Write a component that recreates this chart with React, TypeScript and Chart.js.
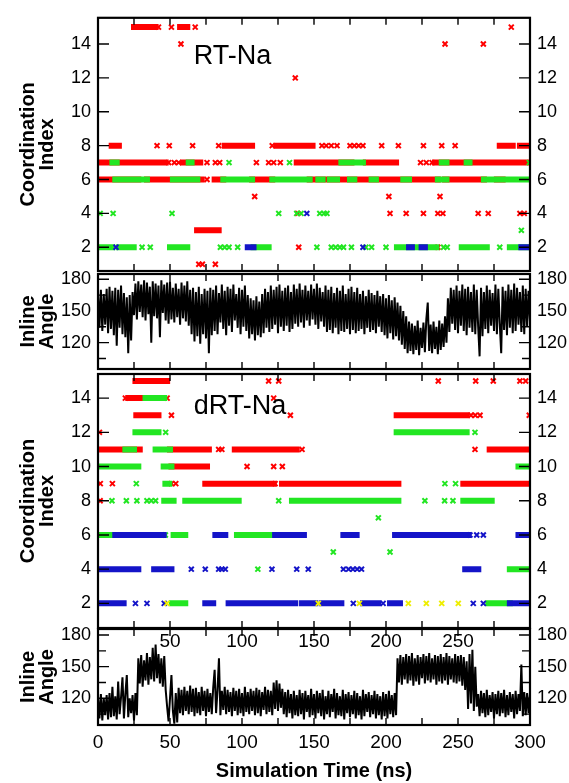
import React, { useEffect, useRef } from 'react';
import { Chart, registerables } from 'chart.js';

Chart.register(...registerables);

const FONT = "'Liberation Sans', Arial, Helvetica, sans-serif";
const W = 569;
const H = 783;

// ---------- tick values ----------
const timeTicks = [0, 50, 100, 150, 200, 250, 300];
const timeFrameTicks = [25, 50, 75, 100, 125, 150, 175, 200, 225, 250, 275];
const innerTimeLabels = [50, 100, 150, 200, 250];
const coordTicks = [2, 4, 6, 8, 10, 12, 14];
const angleTicks = [120, 150, 180];
const angleMinorTicks = [105, 135, 165];

const RED = '#ff0000';
const GREEN = '#22e622';
const BLUE = '#1414c8';
const YELLOW = '#eeee00';

// ---------- RT-Na coordination (runs: [level, start ns, end ns]; points: [ns, level]) ----------
const rtRedRuns = [
  [15, 25, 40], [15, 57, 62],
  [8, 9.5, 14.5], [8, 88, 107], [8, 124, 131], [8, 133, 141], [8, 143, 149], [8, 279, 288], [8, 293, 300],
  [7, 0.5, 47], [7, 59, 71], [7, 138, 176], [7, 186, 207], [7, 234, 298],
  [6, 0.5, 28], [6, 34, 72], [6, 81, 87], [6, 107, 121], [6, 147, 236], [6, 241, 268], [6, 277, 281],
  [3, 68.8, 83.8],
];
const rtRedPts = [
  [42, 15], [51, 15], [67.5, 15], [287, 15],
  [57.6, 14], [241, 14], [267.6, 14],
  [137, 12],
  [41, 8], [49.5, 8], [65.7, 8], [83.8, 8], [121, 8], [155.5, 8], [158.5, 8], [162, 8], [166, 8], [175, 8], [178, 8], [181, 8], [184, 8], [197, 8], [208.6, 8], [226, 8], [238.7, 8], [248, 8],
  [49, 7], [53, 7], [56, 7], [75.7, 7], [81.5, 7], [84.5, 7], [110, 7], [118.5, 7], [122, 7], [126.6, 7], [224, 7], [228, 7], [232, 7],
  [75.7, 6],
  [108.8, 5], [202, 5], [237.5, 5],
  [138.7, 4], [202.8, 4], [214, 4], [226, 4], [236, 4], [239.5, 4], [264, 4], [271, 4], [293, 4], [296, 4],
  [139.4, 2], [236, 2],
  [70, 1], [72.5, 1], [81.5, 1],
];
const rtGreenRuns = [
  [7, 10, 13], [7, 63, 65], [7, 169, 172], [7, 176, 184], [7, 238.7, 242], [7, 256, 258],
  [6, 12, 15], [6, 18, 20], [6, 23, 26], [6, 29, 34], [6, 52, 55], [6, 58, 62], [6, 66, 69], [6, 87, 107], [6, 121, 147],
  [6, 153, 156], [6, 161, 166], [6, 175, 178], [6, 190, 193], [6, 212, 216], [6, 236, 242], [6, 268, 277], [6, 281, 299.5],
  [2, 0.5, 9.7], [2, 14.4, 24.8], [2, 50, 62], [2, 108, 118.5], [2, 207.6, 223.6], [2, 227, 235], [2, 252.6, 270], [2, 286, 299],
];
const rtGreenPts = [
  [91, 7], [133, 7], [299.5, 7],
  [1.5, 4], [10.5, 4], [51.4, 4], [125.5, 4], [138, 4], [141, 4], [154, 4], [157, 4], [159, 4],
  [294, 3],
  [30.6, 2], [36.3, 2], [85, 2], [88, 2], [91, 2], [97, 2], [152, 2], [162, 2], [165, 2], [168, 2], [170.5, 2], [176, 2],
  [186, 2], [190, 2], [200, 2], [240, 2], [242.5, 2], [279, 2],
];
const rtBlueRuns = [[2, 104, 108], [2, 216, 218], [2, 224.7, 227], [2, 294, 299.5]];
const rtBluePts = [[12.5, 2], [145, 4], [184, 2]];

// ---------- dRT-Na coordination ----------
const drtRedRuns = [
  [15, 26, 37], [15, 38.5, 48],
  [14, 21, 33],
  [13, 26.6, 42], [13, 207.4, 256],
  [11, 0.5, 29], [11, 50, 77], [11, 95, 138], [11, 272, 300],
  [10, 51, 75.7],
  [9, 74.5, 122], [9, 127.8, 208.6], [9, 253.7, 300],
];
const drtRedPts = [
  [118.5, 15], [125.5, 15], [236.3, 15], [262.3, 15], [274.5, 15], [293, 15], [297, 15],
  [19, 14], [48, 14], [122, 14],
  [51, 13], [133.6, 13], [259, 13], [262, 13], [265.3, 13], [299.5, 13],
  [1, 12],
  [83.8, 11], [86, 11], [141.7, 11], [261.8, 11],
  [103.5, 10], [122, 10], [128, 10],
  [1.6, 9], [10, 9], [51, 9], [54, 9], [123, 9],
  [1.5, 8],
];
const drtGreenRuns = [
  [14, 33, 46],
  [12, 26, 42], [12, 207.4, 256],
  [11, 19, 25], [11, 40, 50],
  [10, 0.5, 28], [10, 45.6, 51], [10, 292, 299.5],
  [9, 46.8, 49.5],
  [8, 46, 52.5], [8, 60.6, 97.7], [8, 134.7, 208.6], [8, 253.7, 273.4],
  [6, 2.3, 8.6], [6, 52.5, 60.6], [6, 96.5, 123], [6, 130, 133.6],
  [4, 286, 299.5],
  [2, 51.4, 60.6], [2, 271, 286],
];
const drtGreenPts = [
  [47, 12], [261.8, 12],
  [26.6, 9], [240.9, 9], [248.3, 9],
  [9.7, 8], [19.7, 8], [27, 8], [34, 8], [37, 8], [40, 8], [125.5, 8], [227, 8], [240.7, 8], [246.5, 8],
  [194.7, 7],
  [46.8, 6],
  [163.4, 5], [202.8, 5],
  [111, 4],
];
const drtBlueRuns = [
  [6, 12, 45.6], [6, 81.5, 88.4], [6, 123, 130], [6, 134, 143], [6, 170.4, 179.6], [6, 206.3, 257.2], [6, 292, 299.5],
  [4, 0.5, 28], [4, 39, 51], [4, 255, 264.1],
  [2, 0.5, 17.8], [2, 74.5, 80], [2, 90.7, 94], [2, 96.5, 137], [2, 141.7, 150.7], [2, 155.3, 169], [2, 184, 194.7], [2, 202.8, 209.7], [2, 286, 300],
];
const drtBluePts = [
  [258.3, 6], [263, 6], [267.6, 6],
  [64.8, 4], [74.5, 4], [83.8, 4], [86, 4], [88.4, 4], [120.8, 4], [138, 4], [146, 4], [170.4, 4], [174, 4], [177, 4], [180, 4], [183, 4],
  [26, 2], [34, 2], [46, 2], [177.3, 2], [198, 2], [260.6, 2], [267.6, 2],
];
const drtYellowPts = [[47.9, 2], [153, 2], [181.5, 2], [215.5, 2], [228, 2], [238.7, 2], [250.2, 2]];

// ---------- inline angle, one value per ns (0..300) ----------
const rtAngle = [
  168, 134, 170, 131, 166, 137, 171, 129, 173, 133,
  169, 127, 172, 117, 170, 134, 174, 128, 167, 125,
  163, 110, 165, 122, 168, 146, 176, 142, 178, 149,
  175, 144, 179, 141, 177, 147, 173, 120, 178, 145,
  176, 143, 174, 125, 179, 148, 175, 141, 177, 138,
  178, 142, 172, 139, 176, 144, 171, 137, 177, 143,
  174, 140, 178, 136, 170, 128, 172, 121, 168, 126,
  173, 119, 166, 128, 171, 124, 169, 110, 172, 127,
  170, 131, 174, 128, 167, 139, 175, 133, 169, 127,
  173, 136, 171, 130, 175, 141, 166, 134, 172, 128,
  170, 135, 174, 131, 165, 124, 162, 128, 160, 122,
  164, 127, 159, 125, 166, 129, 171, 134, 168, 130,
  174, 133, 170, 137, 173, 129, 175, 135, 169, 131,
  172, 136, 174, 130, 168, 133, 175, 138, 171, 135,
  176, 139, 170, 134, 174, 141, 169, 136, 175, 142,
  171, 137, 176, 133, 172, 140, 168, 135, 174, 130,
  170, 132, 173, 129, 167, 134, 172, 128, 169, 131,
  174, 130, 166, 133, 171, 128, 173, 132, 168, 129,
  172, 131, 166, 133, 169, 128, 164, 134, 170, 130,
  167, 132, 165, 129, 169, 135, 164, 130, 166, 127,
  162, 124, 165, 129, 160, 123, 163, 126, 158, 122,
  155, 118, 150, 114, 145, 110, 140, 112, 138, 109,
  136, 113, 141, 108, 134, 115, 139, 111, 142, 158,
  112, 137, 110, 140, 114, 135, 109, 141, 113, 138,
  116, 145, 120, 162, 130, 172, 138, 170, 132, 174,
  129, 169, 136, 175, 131, 171, 127, 173, 134, 168,
  130, 175, 128, 170, 135, 107, 172, 126, 168, 133,
  174, 129, 170, 136, 167, 131, 175, 128, 171, 138,
  110, 173, 132, 169, 127, 175, 134, 170, 129, 176,
  131, 172, 137, 168, 130, 174, 128, 171, 135, 169,
  140,
];
const drtAngle = [
  121, 101, 124, 99, 120, 104, 123, 100, 125, 102,
  131, 103, 122, 100, 136, 105, 121, 140, 101, 124,
  142, 102, 120, 106, 123, 99, 125, 104, 158, 134,
  161, 131, 156, 137, 163, 133, 159, 138, 168, 136,
  171, 139, 162, 134, 158, 131, 160, 128, 112, 98,
  120, 142, 108, 96, 125, 97, 130, 106, 128, 104,
  131, 108, 127, 105, 132, 107, 129, 103, 130, 106,
  126, 104, 131, 108, 127, 103, 129, 107, 125, 105,
  130, 147, 106, 128, 158, 104, 127, 109, 131, 105,
  128, 107, 126, 103, 130, 108, 127, 104, 129, 106,
  125, 103, 131, 107, 126, 105, 129, 108, 127, 104,
  130, 106, 128, 103, 126, 109, 131, 105, 128, 107,
  127, 104, 135, 110, 137, 108, 134, 111, 129, 105,
  126, 102, 128, 106, 124, 101, 127, 104, 123, 103,
  128, 105, 125, 100, 127, 107, 123, 102, 129, 104,
  124, 101, 127, 106, 125, 103, 128, 100, 122, 105,
  127, 102, 124, 107, 129, 101, 125, 104, 122, 103,
  128, 100, 124, 106, 126, 102, 123, 105, 127, 101,
  125, 104, 122, 100, 128, 103, 124, 107, 126, 102,
  123, 105, 127, 101, 124, 104, 122, 100, 126, 103,
  124, 101, 127, 105, 123, 102, 125, 104, 158, 135,
  161, 133, 159, 138, 162, 134, 160, 137, 163, 132,
  158, 136, 161, 133, 159, 139, 162, 134, 160, 137,
  163, 135, 158, 138, 161, 133, 160, 136, 162, 134,
  159, 137, 163, 133, 160, 138, 158, 135, 162, 134,
  160, 136, 161, 132, 159, 128, 155, 110, 162, 115,
  166, 108, 150, 112, 124, 103, 127, 106, 125, 102,
  128, 104, 123, 107, 126, 101, 124, 105, 127, 103,
  125, 106, 128, 102, 123, 104, 126, 107, 124, 101,
  127, 105, 124, 108, 152, 103, 126, 104, 125, 106,
  124,
];

// ---------- helpers ----------
function runData(runs: number[][]) {
  const out: any[] = [];
  for (const [lv, s, e] of runs) {
    out.push({ x: s, y: lv }, { x: e, y: lv }, { x: e, y: null });
  }
  return out;
}
function ptData(pts: number[][]) {
  return pts.map(([t, lv]) => ({ x: t, y: lv }));
}
function runSet(runs: number[][], color: string) {
  return {
    type: 'line', data: runData(runs), borderColor: color, borderWidth: 6, borderCapStyle: 'square',
    pointRadius: 0, fill: false, spanGaps: false, tension: 0,
  };
}
function ptSet(pts: number[][], color: string) {
  return {
    type: 'scatter', data: ptData(pts), pointStyle: 'crossRot', pointRadius: 3.5,
    borderColor: color, backgroundColor: color, pointBorderWidth: 2, borderWidth: 2, showLine: false,
  };
}
function angleSet(vals: number[]) {
  return {
    type: 'line', data: vals.map((v, i) => ({ x: i, y: v })), borderColor: '#000', borderWidth: 2,
    pointRadius: 0, fill: false, tension: 0,
  };
}

const framePlugin = {
  id: 'frame',
  afterDatasetsDraw(chart: any, _a: any, o: any) {
    const { ctx, chartArea: a, scales } = chart;
    const xs = scales.x;
    const ys = scales.y;
    ctx.save();
    ctx.strokeStyle = '#000';
    ctx.lineWidth = 1.4;
    ctx.beginPath();
    for (const v of timeFrameTicks) {
      const px = xs.getPixelForValue(v);
      ctx.moveTo(px, a.top); ctx.lineTo(px, a.top + 7);
      ctx.moveTo(px, a.bottom); ctx.lineTo(px, a.bottom - 7);
    }
    for (const v of o.yTicks) {
      const py = ys.getPixelForValue(v);
      ctx.moveTo(a.left, py); ctx.lineTo(a.left + 11, py);
      ctx.moveTo(a.right, py); ctx.lineTo(a.right - 11, py);
    }
    for (const v of o.yMinor) {
      const py = ys.getPixelForValue(v);
      ctx.moveTo(a.left, py); ctx.lineTo(a.left + 8, py);
      ctx.moveTo(a.right, py); ctx.lineTo(a.right - 8, py);
    }
    ctx.stroke();
    ctx.lineWidth = 2.2;
    ctx.strokeRect(a.left, a.top, a.right - a.left, a.bottom - a.top);
    if (o.label) {
      ctx.fillStyle = '#000';
      ctx.font = `27px ${FONT}`;
      ctx.textAlign = 'left';
      ctx.textBaseline = 'alphabetic';
      ctx.fillText(o.label.text, xs.getPixelForValue(o.label.t), ys.getPixelForValue(o.label.v));
    }
    ctx.restore();
  },
};

const noGrid = { display: false, drawTicks: false, tickLength: 0 };

function makeConfig(p: any) {
  const tickFont = { family: FONT, size: 18 };
  let xScale: any = { type: 'linear', min: 0, max: 300, display: false };
  let axisH = 0;
  if (p.xMode === 'inner') {
    axisH = 30;
    xScale = {
      type: 'linear', min: 0, max: 300, position: 'bottom',
      afterBuildTicks: (s: any) => { s.ticks = innerTimeLabels.map((v) => ({ value: v })); },
      afterFit: (s: any) => { s.height = 30; },
      grid: noGrid, border: { display: false },
      ticks: { font: { family: FONT, size: 19 }, color: '#000', padding: 2, maxRotation: 0, autoSkip: false },
    };
  } else if (p.xMode === 'full') {
    axisH = 58;
    xScale = {
      type: 'linear', min: 0, max: 300, position: 'bottom',
      afterBuildTicks: (s: any) => { s.ticks = timeTicks.map((v) => ({ value: v })); },
      afterFit: (s: any) => { s.height = 58; },
      grid: noGrid, border: { display: false },
      ticks: { font: { family: FONT, size: 19 }, color: '#000', padding: 6, maxRotation: 0, autoSkip: false },
      title: {
        display: true, text: 'Simulation Time (ns)', color: '#000',
        font: { family: FONT, size: 20, weight: 'bold', lineHeight: 1.2 }, padding: { top: 0, bottom: 0 },
      },
    };
  }
  const yBase = (pos: string, width: number) => ({
    type: 'linear', position: pos, min: p.min, max: p.max,
    afterBuildTicks: (s: any) => { s.ticks = p.yTicks.map((v: number) => ({ value: v })); },
    afterFit: (s: any) => { s.width = width; },
    grid: noGrid, border: { display: false },
    ticks: { font: tickFont, color: '#000', padding: 7, autoSkip: false },
  });
  const yLeft: any = yBase('left', 98);
  yLeft.title = {
    display: true, text: p.title, color: '#000',
    font: { family: FONT, size: 20, weight: 'bold', lineHeight: 0.95 }, padding: { top: 18.5, bottom: 0 },
  };
  const yRight: any = yBase('right', 39);
  return {
    type: 'scatter',
    data: { datasets: p.datasets },
    options: {
      responsive: false, animation: false, events: [],
      layout: { padding: { top: p.top, bottom: H - p.bottom - axisH, left: 0, right: 0 } },
      plugins: {
        legend: { display: false }, tooltip: { enabled: false },
        frame: { yTicks: p.yTicks, yMinor: p.yMinor || [], label: p.label },
      },
      scales: { x: xScale, y: yLeft, y2: yRight },
    },
    plugins: [framePlugin],
  };
}

function coordDatasets(layers: any[]) {
  // bottom-to-top order, then reversed (Chart.js draws index 0 on top)
  return layers.slice().reverse();
}

export default function App() {
  const r1 = useRef<HTMLCanvasElement>(null);
  const r2 = useRef<HTMLCanvasElement>(null);
  const r3 = useRef<HTMLCanvasElement>(null);
  const r4 = useRef<HTMLCanvasElement>(null);
  useEffect(() => {
    const c1 = makeConfig({
      top: 15, bottom: 271, min: 0.6, max: 15.55, yTicks: coordTicks, title: ['Coordination', 'Index'],
      label: { text: 'RT-Na', t: 66.5, v: 12.85 },
      datasets: coordDatasets([
        runSet(rtRedRuns, RED), ptSet(rtRedPts, RED),
        runSet(rtGreenRuns, GREEN), ptSet(rtGreenPts, GREEN),
        runSet(rtBlueRuns, BLUE), ptSet(rtBluePts, BLUE),
      ]),
    });
    const c2 = makeConfig({
      top: 274, bottom: 369, min: 95, max: 185, yTicks: angleTicks, yMinor: angleMinorTicks,
      title: ['Inline', 'Angle'], datasets: [angleSet(rtAngle)],
    });
    const c3 = makeConfig({
      top: 374, bottom: 628, min: 0.56, max: 15.41, yTicks: coordTicks, title: ['Coordination', 'Index'],
      label: { text: 'dRT-Na', t: 66.5, v: 13.07 }, xMode: 'inner',
      datasets: coordDatasets([
        runSet(drtRedRuns, RED), ptSet(drtRedPts, RED),
        runSet(drtGreenRuns, GREEN), ptSet(drtGreenPts, GREEN),
        runSet(drtBlueRuns, BLUE), ptSet(drtBluePts, BLUE),
        ptSet(drtYellowPts, YELLOW),
      ]),
    });
    const c4 = makeConfig({
      top: 629, bottom: 725, min: 94.7, max: 185.7, yTicks: angleTicks, yMinor: angleMinorTicks,
      title: ['Inline', 'Angle'], xMode: 'full', datasets: [angleSet(drtAngle)],
    });
    const charts = [
      new Chart(r1.current as any, c1 as any),
      new Chart(r2.current as any, c2 as any),
      new Chart(r4.current as any, c4 as any),
      new Chart(r3.current as any, c3 as any),
    ];
    return () => charts.forEach((c) => c.destroy());
  }, []);
  const cs: any = { position: 'absolute', left: 0, top: 0, width: W, height: H };
  return (
    <div style={{ position: 'absolute', left: 0, top: 0, width: W, height: H, background: '#fff', overflow: 'hidden' }}>
      <canvas ref={r1} width={W} height={H} style={cs} />
      <canvas ref={r2} width={W} height={H} style={cs} />
      <canvas ref={r4} width={W} height={H} style={cs} />
      <canvas ref={r3} width={W} height={H} style={cs} />
    </div>
  );
}
